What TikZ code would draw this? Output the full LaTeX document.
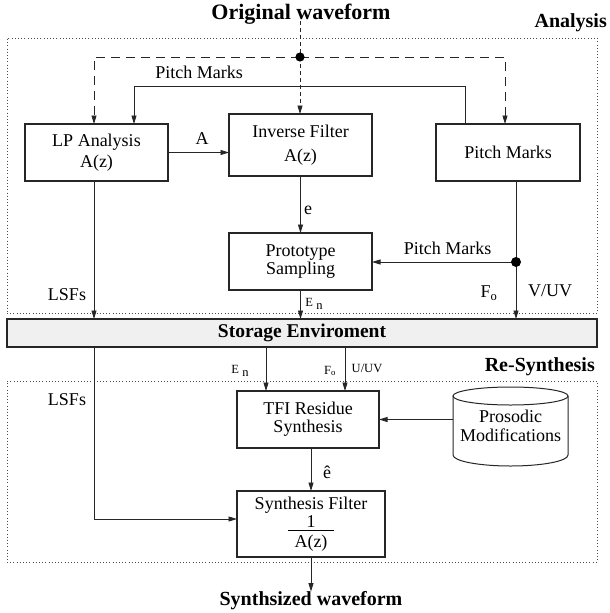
\documentclass[tikz,border=0pt]{standalone}
\usepackage{fontspec}
\setmainfont{Liberation Serif}
\usetikzlibrary{arrows.meta}
\begin{document}
\begin{tikzpicture}[x=1pt,y=-1pt,
  blk/.style={draw=black!85, line width=1.1pt, align=center, inner sep=0pt, outer sep=0pt,
    font=\fontsize{18}{20}\selectfont},
  plain/.style={line width=0.9pt, draw=black!85},
  conn/.style={plain, -{Triangle[length=8.5pt,width=5pt]}},
  ldash/.style={dash pattern=on 9pt off 6pt},
  sdash/.style={dash pattern=on 4pt off 3pt},
  frame/.style={draw=black!70, line width=0.8pt, dash pattern=on 0.8pt off 2.4pt, inner sep=0pt, outer sep=0pt},
  lbl/.style={font=\fontsize{18}{20}\selectfont, inner sep=0pt},
  slbl/.style={font=\fontsize{12.5}{14}\selectfont, inner sep=0pt},
  hdr/.style={font=\fontsize{20}{22}\selectfont\bfseries, inner sep=0pt}
]
\useasboundingbox (0,0) rectangle (610,613);

% frames
\node[frame, minimum width=590pt, minimum height=275pt] (anaf) at (302,175.5) {};
\node[frame, minimum width=590pt, minimum height=181pt] (resf) at (302,471.5) {};

% headings
\node[hdr, font=\fontsize{22}{24}\selectfont\bfseries] (orig) at (301,14) {Original waveform};
\node[hdr, anchor=east] (anal) at (607,23) {Analysis};
\node[hdr, anchor=east] (resyn) at (595,367) {Re-Synthesis};
\node[hdr] (out) at (311,601) {Synthsized waveform};

% blocks
\node[blk, minimum width=143pt, minimum height=57pt] (lp) at (96.5,152.5) {LP Analysis\\[1pt]A(z)};
\node[blk, minimum width=143pt, minimum height=62pt] (inv) at (300.5,145) {Inverse Filter\\[4pt]A(z)};
\node[blk, minimum width=144pt, minimum height=57pt] (pm) at (508,152.5) {Pitch Marks};
\node[blk, minimum width=143pt, minimum height=57pt] (proto) at (300.5,261.5) {Prototype\\[-2pt]Sampling};
\node[blk, fill=black!6, minimum width=590pt, minimum height=28pt,
      font=\fontsize{19.5}{21}\selectfont\bfseries] (st) at (302,333) {Storage Enviroment};
\node[blk, minimum width=142pt, minimum height=57pt] (tfi) at (308,419.5) {TFI Residue\\[-2pt]Synthesis};
\node[blk, minimum width=148pt, minimum height=66pt] (syn) at (311,524)
  {Synthesis Filter\\[-2pt]\makebox[46pt]{1}\llap{\raisebox{-4pt}{\rule{46pt}{0.9pt}}}\\A(z)};
\node[blk, draw=none, minimum width=115pt, minimum height=59pt] (pros) at (510.5,425.5) {Prosodic\\[-1pt]Modifications};
% cylinder outline
\draw[plain, line width=1pt] (pros.north) ellipse [x radius=57.5pt, y radius=9pt];
\draw[plain, line width=1pt] (pros.north west) -- (pros.south west)
  arc[start angle=180, end angle=360, x radius=57.5pt, y radius=11pt] -- (pros.north east);

% helper coordinates
\coordinate (jn) at (300,57);
\coordinate (dl) at (94,57);
\coordinate (dr) at (505,57);
\coordinate (fbr) at (465,86);
\coordinate (fbl) at (134,86);
\coordinate (jv) at (516,262);
\coordinate (lsfx) at (94,0);
\coordinate (enx) at (266,0);
\coordinate (fox) at (345,0);

% dashed original waveform distribution
\draw[plain, sdash] ([yshift=3pt]jn |- orig.south) -- (jn);
\draw[conn, sdash] (jn) -- (jn |- inv.north);
\draw[conn, ldash] (jn) -- (dl) -- (dl |- lp.north);
\draw[conn, ldash] (jn) -- (dr) -- (dr |- pm.north);
\fill[black] (jn) circle[radius=4.6pt];

% pitch marks feedback
\draw[conn] (fbr |- pm.north) -- (fbr) -- (fbl) -- (fbl |- lp.north);
\node[lbl] (pmlbla) at (199,72) {Pitch Marks};

% LP -> inverse
\draw[conn] (lp.east) -- (lp.east -| inv.west);
\node[lbl] (albl) at (202,139) {A};

% inverse -> prototype
\draw[conn] (inv.south) -- (proto.north);
\node[lbl] (elbl) at (308,210) {e};

% pitch marks -> storage and prototype
\draw[plain] (pm.south -| jv) -- (jv);
\draw[conn] (jv) -- (jv -| proto.east);
\draw[conn] (jv) -- (jv |- st.north);
\fill[black] (jv) circle[radius=5pt];
\node[lbl] (pmlblb) at (447.5,248) {Pitch Marks};
\node[lbl] (folbl) at (489,293) {F\textsubscript{o}};
\node[lbl] (vuvlbl) at (550,291) {V/UV};

% LSFs to storage
\draw[conn] (lp.south -| lsfx) -- (lsfx |- st.north);
\node[lbl] (lsfa) at (67,295) {LSFs};

% prototype -> storage
\draw[conn] (proto.south) -- (proto.south |- st.north);
\node[slbl] (enlbla) at (314,304) {E \raisebox{-0.5ex}{n}};

% storage -> TFI
\draw[conn] (enx |- st.south) -- (enx |- tfi.north);
\draw[conn] (fox |- st.south) -- (fox |- tfi.north);
\node[slbl] (enlblb) at (240,371) {E \raisebox{-0.5ex}{n}};
\node[slbl] (folblb) at (330,371) {F\textsubscript{o}};
\node[slbl] (uvlbl) at (367,368) {U/UV};

% LSFs to synthesis filter
\draw[conn] (lsfx |- st.south) |- ([yshift=5pt]syn.west);
\node[lbl] (lsfb) at (67,400) {LSFs};

% prosodic -> TFI
\draw[conn] (pros.west |- tfi.east) -- (tfi.east);

% TFI -> synthesis
\draw[conn] (syn.north |- tfi.south) -- (syn.north);
\node[lbl] (ehat) at (327,472) {ê};

% synthesis -> output
\draw[conn] (syn.south) -- (out.north);
\end{tikzpicture}
\end{document}
